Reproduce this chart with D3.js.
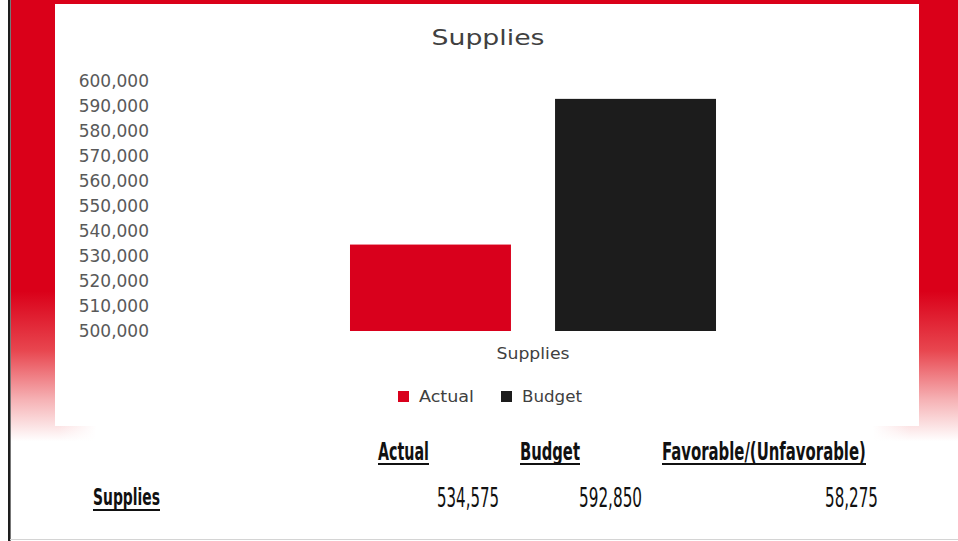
<!DOCTYPE html>
<html>
<head>
<meta charset="utf-8">
<script src="https://cdn.jsdelivr.net/npm/d3@7"></script>
<style>
  html, body { margin: 0; padding: 0; background: #ffffff; }
  svg { display: block; }
</style>
</head>
<body>
<svg id="chart" width="958" height="541"></svg>
<script>
// ---- data ----
const categories = ["Supplies"];
const seriesNames = ["Actual", "Budget"];
const actualValues = [534575];
const budgetValues = [592850];
const varianceValues = [58275];
const yTickValues = [500000, 510000, 520000, 530000, 540000, 550000,
                     560000, 570000, 580000, 590000, 600000];
const tableHeaders = ["Actual", "Budget", "Favorable/(Unfavorable)"];

const seriesColors = { Actual: "#d9001c", Budget: "#1c1c1c" };
const frameRed = "#da0019";

const svg = d3.select("#chart");
const defs = svg.append("defs");

// squeeze or stretch a text horizontally so that it spans the given width
function fitWidth(sel, width, anchor) {
  sel.each(function () {
    const node = this;
    const natural = node.getComputedTextLength() || width;
    const sx = width / natural;
    const x = +node.getAttribute("x"), yv = +node.getAttribute("y");
    node.setAttribute("x", 0);
    node.setAttribute("y", 0);
    const shift = anchor === "end" ? x : x;
    node.setAttribute("transform", `translate(${shift},${yv}) scale(${sx},1)`);
  });
}

// ---- red frame fading to white toward the bottom ----
const vGrad = defs.append("linearGradient")
  .attr("id", "frameFade").attr("x1", 0).attr("y1", 0).attr("x2", 0).attr("y2", 1);
[[0, frameRed], [0.64, frameRed], [0.77, "#e8464f"], [0.88, "#f6b3b6"], [0.97, "#ffffff"]]
  .forEach(([o, c]) => vGrad.append("stop").attr("offset", o).attr("stop-color", c));

svg.append("rect").attr("x", 11).attr("y", 0).attr("width", 947).attr("height", 455)
  .attr("fill", "url(#frameFade)");

// white chart panel
svg.append("rect").attr("x", 55).attr("y", 4).attr("width", 864).attr("height", 422)
  .attr("fill", "#ffffff");

// white strip below the panel, letting a little pink through at both ends
const hGrad = defs.append("linearGradient")
  .attr("id", "stripFade").attr("x1", 0).attr("y1", 0).attr("x2", 1).attr("y2", 0);
[[0, 0], [0.05, 0], [0.09, 1], [0.91, 1], [0.95, 0], [1, 0]]
  .forEach(([o, a]) => hGrad.append("stop").attr("offset", o).attr("stop-color", "#ffffff").attr("stop-opacity", a));
svg.append("rect").attr("x", 11).attr("y", 424).attr("width", 947).attr("height", 34)
  .attr("fill", "url(#stripFade)");

// left dark rule and faint bottom rule
svg.append("rect").attr("x", 8).attr("y", 0).attr("width", 2.6).attr("height", 541).attr("fill", "#1e1e1e");
svg.append("line").attr("x1", 10).attr("x2", 958).attr("y1", 539.5).attr("y2", 539.5)
  .attr("stroke", "#d4d4d4").attr("stroke-width", 1);

// ---- chart ----
const plotLeft = 150, plotRight = 916, plotTop = 81, plotBottom = 331;

const y = d3.scaleLinear().domain([500000, 600000]).range([plotBottom, plotTop]);

const x0 = d3.scaleBand().domain(categories).range([plotLeft, plotRight])
  .paddingInner(0).paddingOuter(0.5464);
const x1 = d3.scaleBand().domain(seriesNames).range([0, x0.bandwidth()])
  .paddingInner(0.215).paddingOuter(0);

// title
svg.append("text")
  .attr("x", 488).attr("y", 45)
  .attr("text-anchor", "middle")
  .attr("font-family", "DejaVu Sans, sans-serif")
  .attr("font-size", 21.5)
  .attr("fill", "#404040")
  .attr("textLength", 113).attr("lengthAdjust", "spacingAndGlyphs")
  .text("Supplies");

// y axis labels
const yAxis = svg.append("g")
  .attr("transform", `translate(${plotLeft},0)`)
  .call(d3.axisLeft(y).tickValues(yTickValues).tickFormat(d3.format(",")).tickSize(0).tickPadding(1));
yAxis.select(".domain").remove();
yAxis.selectAll("text")
  .attr("font-family", "DejaVu Sans, sans-serif")
  .attr("font-size", 17)
  .attr("fill", "#595959");

// bars
const rows = categories.map((c, i) => ({
  category: c,
  values: [
    { series: "Actual", value: actualValues[i] },
    { series: "Budget", value: budgetValues[i] }
  ]
}));

const groups = svg.selectAll("g.cat").data(rows).join("g")
  .attr("class", "cat")
  .attr("transform", d => `translate(${x0(d.category)},0)`);

groups.selectAll("rect").data(d => d.values).join("rect")
  .attr("x", d => x1(d.series))
  .attr("width", x1.bandwidth())
  .attr("y", d => y(d.value))
  .attr("height", d => y(500000) - y(d.value))
  .attr("fill", d => seriesColors[d.series]);

// category label
svg.selectAll("text.cat-label").data(categories).join("text")
  .attr("class", "cat-label")
  .attr("x", d => x0(d) + x0.bandwidth() / 2)
  .attr("y", 359)
  .attr("text-anchor", "middle")
  .attr("font-family", "DejaVu Sans, sans-serif")
  .attr("font-size", 15)
  .attr("fill", "#404040")
  .attr("textLength", 73).attr("lengthAdjust", "spacingAndGlyphs")
  .text(d => d);

// legend
const legendItems = [
  { name: "Actual", sx: 398, tx: 419, tw: 55 },
  { name: "Budget", sx: 501, tx: 522, tw: 60 }
];
const legend = svg.append("g");
legend.selectAll("rect").data(legendItems).join("rect")
  .attr("x", d => d.sx).attr("y", 391)
  .attr("width", 11).attr("height", 11)
  .attr("fill", d => seriesColors[d.name]);
legend.selectAll("text").data(legendItems).join("text")
  .attr("x", d => d.tx).attr("y", 402)
  .attr("font-family", "DejaVu Sans, sans-serif")
  .attr("font-size", 16)
  .attr("fill", "#404040")
  .attr("textLength", d => d.tw).attr("lengthAdjust", "spacingAndGlyphs")
  .text(d => d.name);

// ---- summary table ----
const tableFont = "'Liberation Sans Narrow', 'DejaVu Sans Condensed', 'Liberation Sans', sans-serif";
const fmt = d3.format(",");

const headerCells = [
  { text: tableHeaders[0], x: 378, w: 51 },
  { text: tableHeaders[1], x: 520, w: 60 },
  { text: tableHeaders[2], x: 662, w: 204 }
];
const table = svg.append("g");
table.selectAll("text.hdr").data(headerCells).join("text")
  .attr("class", "hdr")
  .attr("x", d => d.x).attr("y", 460)
  .attr("font-family", tableFont)
  .attr("font-weight", "bold")
  .attr("font-size", 25)
  .attr("fill", "#111111")
  .text(d => d.text)
  .each(function (d) { fitWidth(d3.select(this), d.w, "start"); });
table.selectAll("line.hdr-u").data(headerCells).join("line")
  .attr("class", "hdr-u")
  .attr("x1", d => d.x).attr("x2", d => d.x + d.w)
  .attr("y1", 464).attr("y2", 464)
  .attr("stroke", "#111111").attr("stroke-width", 2);

// row label
table.append("text")
  .attr("x", 93).attr("y", 505)
  .attr("font-family", tableFont)
  .attr("font-weight", "bold")
  .attr("font-size", 23)
  .attr("fill", "#111111")
  .text(categories[0])
  .call(s => fitWidth(s, 67, "start"));
table.append("line")
  .attr("x1", 93).attr("x2", 160).attr("y1", 510).attr("y2", 510)
  .attr("stroke", "#111111").attr("stroke-width", 2);

// row values, right aligned
const valueCells = [
  { v: actualValues[0], right: 499, w: 62 },
  { v: budgetValues[0], right: 642, w: 63 },
  { v: varianceValues[0], right: 878, w: 53 }
];
table.selectAll("text.val").data(valueCells).join("text")
  .attr("class", "val")
  .attr("x", d => d.right).attr("y", 507)
  .attr("text-anchor", "end")
  .attr("font-family", tableFont)
  .attr("font-size", 27)
  .attr("fill", "#111111")
  .text(d => fmt(d.v))
  .each(function (d) { fitWidth(d3.select(this), d.w, "end"); });
</script>
</body>
</html>
